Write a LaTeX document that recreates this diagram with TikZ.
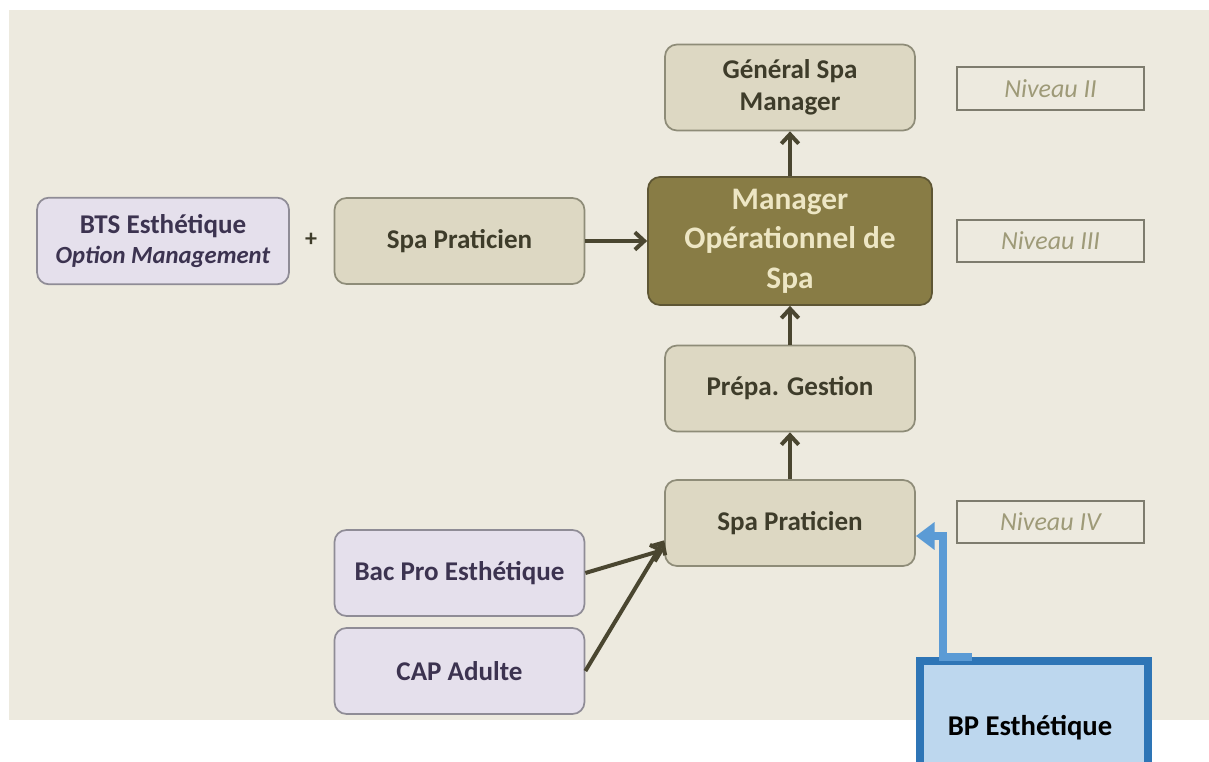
\documentclass[tikz,border=0pt]{standalone}
\usepackage{fontspec}
\setmainfont{Carlito}
\usetikzlibrary{arrows.meta}
\definecolor{bgc}{HTML}{EDEADF}
\definecolor{beigef}{HTML}{DDD8C3}
\definecolor{beiged}{HTML}{8E8C78}
\definecolor{lavf}{HTML}{E5E0EC}
\definecolor{lavd}{HTML}{8F8C96}
\definecolor{olivef}{HTML}{887C45}
\definecolor{olived}{HTML}{5E5634}
\definecolor{olivet}{HTML}{EDE6C4}
\definecolor{darkt}{HTML}{3E3C2A}
\definecolor{lavt}{HTML}{3C3350}
\definecolor{arr}{HTML}{4A4630}
\definecolor{nivt}{HTML}{9E9A78}
\definecolor{nivd}{HTML}{7E7C6E}
\definecolor{bpf}{HTML}{BDD7EE}
\definecolor{bpd}{HTML}{2E75B6}
\definecolor{bparr}{HTML}{5B9BD5}
\begin{document}
\begin{tikzpicture}[x=0.75pt,y=-0.75pt,
  base/.style={rounded corners=9pt,line width=1.3pt,align=center,inner sep=0pt,font=\bfseries\fontsize{20.3}{24}\selectfont},
  beigebox/.style={base,draw=beiged,fill=beigef,text=darkt,minimum width=187.5pt,minimum height=64.5pt},
  lavbox/.style={base,draw=lavd,fill=lavf,text=lavt,minimum width=189pt,minimum height=65pt,font=\bfseries\fontsize{20.3}{22.5}\selectfont},
  mainbox/.style={base,draw=olived,fill=olivef,text=olivet,minimum width=213pt,minimum height=96pt,font=\bfseries\fontsize{23.5}{29.6}\selectfont},
  nivbox/.style={draw=nivd,line width=1.3pt,fill=bgc,text=nivt,minimum width=140pt,minimum height=32pt,inner sep=0pt,font=\itshape\fontsize{19.5}{22}\selectfont},
  conn/.style={draw=arr,line width=3pt,-{Straight Barb[length=7pt,width=13pt,line width=3pt]}}
]
\useasboundingbox (0,0) rectangle (1209,762);
\fill[white] (0,0) rectangle (1209,762);
\fill[bgc] (9,10) rectangle (1209,720);

\node[beigebox] (gsm) at (790,87.5) {Général Spa\\Manager};
\node[nivbox] (n2) at (1050.5,88.5) {Niveau II};
\node[mainbox] (mos) at (790,241) {Manager\\Opérationnel de\\Spa};
\node[nivbox] (n3) at (1050.5,241) {Niveau III};
\node[lavbox] (bts) at (163,241) {BTS Esthétique\\{\fontsize{18.5}{22}\selectfont\textit{Option Management}}};
\node[text=darkt,font=\bfseries\fontsize{18}{20}\selectfont] (plus) at (311,240) {+};
\node[beigebox] (sp1) at (459.5,241) {Spa Praticien};
\node[beigebox] (prep) at (790,388.5) {Prépa. Gestion};
\node[beigebox] (sp2) at (790,523) {Spa Praticien};
\node[nivbox] (n4) at (1050.5,522) {Niveau IV};
\node[beigebox,draw=lavd,fill=lavf,text=lavt] (bac) at (459.5,573) {Bac Pro Esthétique};
\node[beigebox,draw=lavd,fill=lavf,text=lavt] (cap) at (459.5,671) {CAP Adulte};

\node[draw=bpd,line width=6pt,fill=bpf,minimum width=171pt,minimum height=90pt,anchor=north west,inner sep=0pt] (bp) at (915.5,657) {};
\node[font=\bfseries\fontsize{21.5}{24}\selectfont,text=black] (bpt) at (1030,728) {BP Esthétique};

\draw[conn] (sp1.east) -- (mos.west);
\draw[conn] (mos.north) -- (gsm.south);
\draw[conn] (prep.north) -- (mos.south);
\draw[conn] (sp2.north) -- (prep.south);
\draw[conn] (bac.east) -- ([yshift=-20pt]sp2.west);
\draw[conn] (cap.east) -- ([yshift=-13pt]sp2.west);

\coordinate (bpstart) at (972,657);
\coordinate (bpup) at (943,657);
\coordinate (bpcorner) at (943,536);
\draw[bparr,line width=6pt,-{Triangle[length=14pt,width=20pt]}] (bpstart) -- (bpup) -- (bpcorner) -- (sp2.east |- bpcorner);
\end{tikzpicture}
\end{document}
